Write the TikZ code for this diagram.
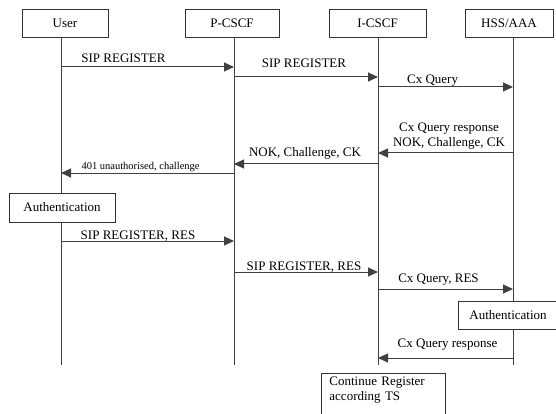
\documentclass[tikz,border=0pt]{standalone}
\usepackage{fontspec}
\setmainfont{Liberation Serif}
\usetikzlibrary{arrows.meta}
\begin{document}
\begin{tikzpicture}[x=1pt,y=-1pt,
  box/.style={draw=black!80, line width=0.9pt, minimum height=28pt, inner sep=0pt, font=\fontsize{13}{15}\selectfont},
  life/.style={draw=black!75, line width=1pt},
  msg/.style={draw=black!75, line width=1pt, -{Triangle[length=10pt,width=9pt]}},
  lbl/.style={font=\fontsize{13}{15}\selectfont, inner sep=0pt, anchor=base},
  small/.style={font=\fontsize{10.5}{12}\selectfont, inner sep=0pt, anchor=base}]
\useasboundingbox (0,0) rectangle (556,414);
% headers
\node[box, minimum width=86pt] (user) at (65,23) {User};
\node[box, minimum width=94pt] (pcscf) at (232,23) {P-CSCF};
\node[box, minimum width=97pt] (icscf) at (377.5,23) {I-CSCF};
\node[box, minimum width=88pt] (hss) at (509,23) {HSS/AAA};
% lifeline x positions and rows
\coordinate (Ux) at (61,0);
\coordinate (Px) at (234,0);
\coordinate (Ix) at (378,0);
\coordinate (Hx) at (513,0);
\coordinate (bot) at (0,365);
\coordinate (m1) at (0,67);
\coordinate (m2) at (0,77);
\coordinate (m3) at (0,87);
\coordinate (m4) at (0,153);
\coordinate (m5) at (0,164);
\coordinate (m6) at (0,173);
\coordinate (m7) at (0,241);
\coordinate (m8) at (0,272);
\coordinate (m9) at (0,289);
\coordinate (m10) at (0,358);
% boxes on lifelines
\node[box, minimum width=106pt, minimum height=29pt] (auth1) at (62,207.5) {Authentication};
\node[box, minimum width=100pt] (auth2) at (508,315) {Authentication};
\node[draw=black!80, line width=0.9pt, anchor=north west, inner xsep=8pt, inner ysep=3pt,
      align=left, text width=108pt, font=\fontsize{13}{15}\selectfont] (cont) at (321,373)
      {Continue Register\\according TS\\ \mbox{}\\ \mbox{}};
% lifelines
\draw[life] (Ux|-user.south) -- (Ux|-auth1.north);
\draw[life] (Ux|-auth1.south) -- (Ux|-bot);
\draw[life] (Px|-pcscf.south) -- (Px|-bot);
\draw[life] (Ix|-icscf.south) -- (Ix|-bot);
\draw[life] (Hx|-hss.south) -- (Hx|-auth2.north);
\draw[life] (Hx|-auth2.south) -- (Hx|-bot);
% messages
\draw[msg] (Ux|-m1) -- node[lbl, pos=.361, yshift=4pt] {SIP REGISTER} (Px|-m1);
\draw[msg] (Px|-m2) -- node[lbl, pos=.486, yshift=9pt] {SIP REGISTER} (Ix|-m2);
\draw[msg] (Ix|-m3) -- node[lbl, pos=.404, yshift=3pt] {Cx Query} (Hx|-m3);
\draw[msg] (Hx|-m4) -- node[lbl, pos=.474, yshift=21pt] {Cx Query response}
                       node[lbl, pos=.474, yshift=6.5pt] {NOK, Challenge, CK} (Ix|-m4);
\draw[msg] (Ix|-m5) -- node[lbl, pos=.507, yshift=7pt] {NOK, Challenge, CK} (Px|-m5);
\draw[msg] (Px|-m6) -- node[small, pos=.54, yshift=3pt] {401 unauthorised, challenge} (Ux|-m6);
\draw[msg] (Ux|-m7) -- node[lbl, pos=.445, yshift=1.5pt] {SIP REGISTER, RES} (Px|-m7);
\draw[msg] (Px|-m8) -- node[lbl, pos=.486, yshift=2pt] {SIP REGISTER, RES} (Ix|-m8);
\draw[msg] (Ix|-m9) -- node[lbl, pos=.448, yshift=7pt] {Cx Query, RES} (Hx|-m9);
\draw[msg] (Hx|-m10) -- node[lbl, pos=.485, yshift=11pt] {Cx Query response} (Ix|-m10);
\end{tikzpicture}
\end{document}
